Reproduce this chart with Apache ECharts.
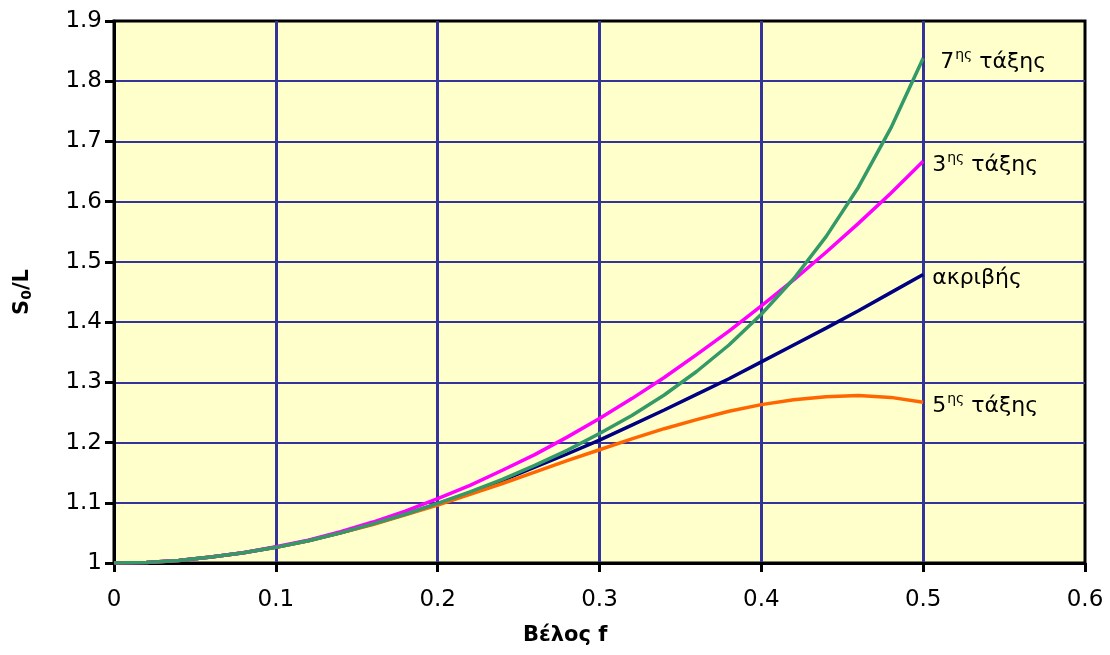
<!DOCTYPE html>
<html>
<head>
<meta charset="utf-8">
<script src="https://cdn.jsdelivr.net/npm/echarts@6/dist/echarts.min.js"></script>
<style>
html,body{margin:0;padding:0;background:#fff;}
#c{width:1110px;height:655px;}
</style>
</head>
<body>
<div id="c"></div>
<script>
// Sag ratio f (x values)
const fVals = [0,0.02,0.04,0.06,0.08,0.10,0.12,0.14,0.16,0.18,0.20,0.22,0.24,0.26,0.28,0.30,0.32,0.34,0.36,0.38,0.40,0.42,0.44,0.46,0.48,0.50];
// S0/L curves
const exact   = [1,1.001,1.004,1.010,1.017,1.026,1.037,1.050,1.065,1.081,1.098,1.117,1.137,1.159,1.181,1.204,1.229,1.254,1.280,1.306,1.334,1.362,1.390,1.419,1.449,1.479];
const third   = [1,1.001,1.004,1.010,1.017,1.027,1.038,1.052,1.068,1.086,1.107,1.129,1.154,1.180,1.209,1.240,1.273,1.308,1.346,1.385,1.427,1.470,1.516,1.564,1.614,1.667];
const fifth   = [1,1.001,1.004,1.010,1.017,1.026,1.037,1.050,1.064,1.080,1.096,1.114,1.132,1.151,1.170,1.188,1.206,1.223,1.238,1.252,1.263,1.271,1.276,1.278,1.275,1.267];
const seventh = [1,1.001,1.004,1.010,1.017,1.026,1.037,1.050,1.065,1.081,1.099,1.118,1.139,1.162,1.187,1.215,1.245,1.279,1.318,1.362,1.413,1.472,1.542,1.624,1.722,1.838];

const seriesNames = ['ακριβής','5ης τάξης','3ης τάξης','7ης τάξης'];
const seriesColors = ['#000080','#FF6600','#FF00FF','#339966'];
const seriesData = [exact, fifth, third, seventh];
const labelOrd = [null,'5','3','7'];

const FONT = 'DejaVu Sans';
const pair = (ys) => fVals.map((x,i)=>[x, ys[i]]);

const richLbl = {
  n:{fontSize:22,fontFamily:FONT,color:'#000'},
  s:{fontSize:14,fontFamily:FONT,color:'#000',verticalAlign:'top',padding:[0,0,14,1]},
  t:{fontSize:22,fontFamily:FONT,color:'#000'}
};

const series = seriesData.map((d,i)=>({
  name: seriesNames[i],
  type:'line',
  data: pair(d),
  symbol:'none',
  smooth:false,
  lineStyle:{color:seriesColors[i],width:3.5},
  itemStyle:{color:seriesColors[i]},
  z: 3+i,
  endLabel:{
    show:true,
    distance: i===3 ? 17 : 9,
    offset:[0,4],
    formatter: labelOrd[i] ? ('{n|'+labelOrd[i]+'}{s|ης}{t| τάξης}') : '{t|ακριβής}',
    rich: richLbl
  }
}));

const chart = echarts.init(document.getElementById('c'),null,{renderer:'canvas'});
chart.setOption({
  animation:false,
  backgroundColor:'#ffffff',
  grid:{left:114,right:25,top:21,bottom:92,show:true,backgroundColor:'#FFFFCC',borderColor:'#000',borderWidth:3},
  xAxis:{
    type:'value',min:0,max:0.6,interval:0.1,
    axisLine:{show:true,onZero:false,lineStyle:{color:'#000',width:3}},
    axisTick:{show:true,length:9,lineStyle:{color:'#000',width:3}},
    axisLabel:{fontSize:23,fontFamily:FONT,color:'#000',margin:26},
    splitLine:{show:true,showMinLine:false,showMaxLine:false,lineStyle:{color:'#333399',width:3}}
  },
  yAxis:{
    type:'value',min:1,max:1.9,interval:0.1,
    name:'{a|S}{b|0}{a|/L}',
    nameLocation:'middle',nameRotate:90,nameGap:80,
    nameTextStyle:{rich:{
      a:{fontSize:21,fontWeight:'bold',fontFamily:FONT,color:'#000'},
      b:{fontSize:14,fontWeight:'bold',fontFamily:FONT,color:'#000',verticalAlign:'bottom',padding:[8,0,0,0]}
    }},
    axisLine:{show:true,onZero:false,lineStyle:{color:'#000',width:3}},
    axisTick:{show:true,length:9,lineStyle:{color:'#000',width:3}},
    axisLabel:{fontSize:23,fontFamily:FONT,color:'#000',margin:12},
    splitLine:{show:true,showMinLine:false,showMaxLine:false,lineStyle:{color:'#333399',width:2}}
  },
  graphic:[{
    type:'text',left:523,top:625,
    style:{text:'Βέλος f',fontSize:21,fontWeight:'bold',fontFamily:FONT,fill:'#000'}
  }],
  series: series
});
</script>
</body>
</html>
